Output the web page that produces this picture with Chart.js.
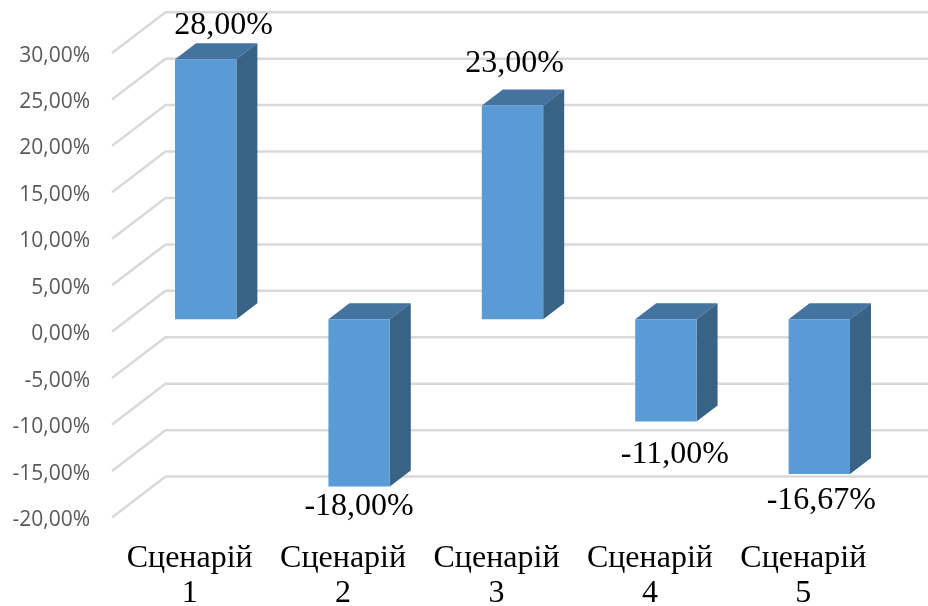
<!DOCTYPE html>
<html>
<head>
<meta charset="utf-8">
<title>Сценарії</title>
<style>
    body { margin: 0; background: #ffffff; }
    canvas { display: block; }
</style>
<script src="https://cdn.jsdelivr.net/npm/chart.js@4"></script>
</head>
<body>
<canvas id="scenarioChart" width="928" height="606"></canvas>
<script>
const categories = [['Сценарій', '1'], ['Сценарій', '2'], ['Сценарій', '3'], ['Сценарій', '4'], ['Сценарій', '5']];
const scenarioValues = [28, -18, 23, -11, -16.67];
const axisMin = -20;
const axisMax = 30;
const axisStep = 5;

// hand placed value labels, pixels away from the end of each bar
const labelShiftX = [18, 0, 2, 9, 2];
const labelShiftY = [-34, 20.5, -41.6, 33.5, 27];

const wallFront = { dx: -17, dy: 12.4 };
const wallBack = { dx: 36.5, dy: -28.4 };
const barDepth = { dx: 21, dy: -16 };

function formatPercent(value) {
    return value.toFixed(2).replace('.', ',') + '%';
}

// 3D look: walls and grid lines, then the top and side of every bar
const depthPlugin = {
    id: 'depth',
    beforeDatasetsDraw(chart) {
        const ctx = chart.ctx;
        const yScale = chart.scales.y;
        const left = chart.chartArea.left;

        ctx.save();
        ctx.strokeStyle = '#d9d9d9';
        ctx.lineWidth = 2.5;
        yScale.ticks.forEach(tick => {
            const y = yScale.getPixelForValue(tick.value);
            ctx.beginPath();
            ctx.moveTo(left + wallFront.dx, y + wallFront.dy);
            ctx.lineTo(left + wallBack.dx, y + wallBack.dy);
            ctx.lineTo(chart.width, y + wallBack.dy);
            ctx.stroke();
        });

        chart.getDatasetMeta(0).data.forEach(bar => {
            const x0 = bar.x - bar.width / 2;
            const x1 = bar.x + bar.width / 2;
            const top = Math.min(bar.y, bar.base);
            const bottom = Math.max(bar.y, bar.base);

            ctx.fillStyle = '#44739f';
            ctx.beginPath();
            ctx.moveTo(x0, top);
            ctx.lineTo(x0 + barDepth.dx, top + barDepth.dy);
            ctx.lineTo(x1 + barDepth.dx, top + barDepth.dy);
            ctx.lineTo(x1, top);
            ctx.closePath();
            ctx.fill();

            ctx.fillStyle = '#386286';
            ctx.beginPath();
            ctx.moveTo(x1, top);
            ctx.lineTo(x1 + barDepth.dx, top + barDepth.dy);
            ctx.lineTo(x1 + barDepth.dx, bottom + barDepth.dy);
            ctx.lineTo(x1, bottom);
            ctx.closePath();
            ctx.fill();
        });
        ctx.restore();
    },
    afterDatasetsDraw(chart) {
        const ctx = chart.ctx;
        ctx.save();
        ctx.font = '32px "Liberation Serif"';
        ctx.fillStyle = '#000000';
        ctx.textAlign = 'center';
        ctx.textBaseline = 'middle';
        chart.getDatasetMeta(0).data.forEach((bar, i) => {
            ctx.fillText(formatPercent(scenarioValues[i]), bar.x + labelShiftX[i], bar.y + labelShiftY[i]);
        });
        ctx.restore();
    }
};

new Chart(document.getElementById('scenarioChart').getContext('2d'), {
    type: 'bar',
    data: {
        labels: categories,
        datasets: [{
            data: scenarioValues,
            backgroundColor: '#5b9bd5',
            barPercentage: 0.4,
            categoryPercentage: 1
        }]
    },
    options: {
        responsive: false,
        animation: false,
        layout: { padding: { top: 40.6, right: 32 } },
        plugins: {
            legend: { display: false },
            tooltip: { enabled: false }
        },
        scales: {
            x: {
                grid: { display: false, drawTicks: false },
                border: { display: false },
                afterFit: scale => { scale.height = 101; },
                ticks: {
                    maxRotation: 0,
                    autoSkip: false,
                    labelOffset: -16,
                    padding: 36,
                    color: '#000000',
                    font: { family: '"Liberation Serif"', size: 32, lineHeight: 1.1 }
                }
            },
            y: {
                min: axisMin,
                max: axisMax,
                grid: { display: false, drawTicks: false },
                border: { display: false },
                afterFit: scale => {
                    scale.width = 129;
                    scale.paddingTop = 0;
                    scale.paddingBottom = 0;
                },
                ticks: {
                    stepSize: axisStep,
                    labelOffset: 15,
                    padding: 39,
                    color: '#595959',
                    font: { family: '"Open Sans"', size: 21 },
                    callback: value => formatPercent(value)
                }
            }
        }
    },
    plugins: [depthPlugin]
});
</script>
</body>
</html>
